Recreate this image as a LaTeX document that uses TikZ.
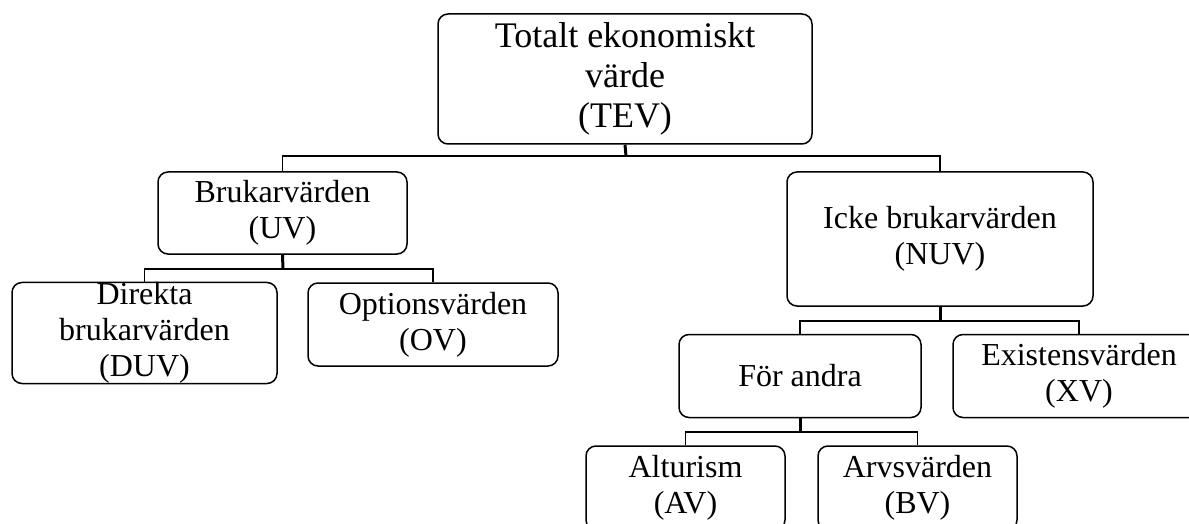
\documentclass[tikz,border=0pt]{standalone}
\usepackage{fontspec}
\setmainfont{Liberation Serif}
\begin{document}
\begin{tikzpicture}[
        x=1pt, y=-1pt,
        box/.style={rectangle, draw, rounded corners=10pt, line width=1.5pt, inner sep=0pt, align=center, font=\fontsize{32}{36}\selectfont},
        link/.style={line width=1.5pt},
        stem/.style={line width=3pt}
    ]
        \clip (0,0) rectangle (1189,524);

        % Top
        \node[box, minimum width=374pt, minimum height=130pt, font=\fontsize{36}{40}\selectfont] (tev) at (625,79) {Totalt ekonomiskt\\v\"arde\\(TEV)};

        % Level 1
        \node[box, minimum width=249pt, minimum height=82pt] (uv) at (282.5,213) {Brukarv\"arden\\(UV)};
        \node[box, minimum width=306pt, minimum height=134pt] (nuv) at (940,239) {Icke brukarv\"arden\\(NUV)};

        % Under UV
        \node[box, minimum width=265pt, minimum height=100pt] (duv) at (144.5,333) {Direkta\\brukarv\"arden\\(DUV)};
        \node[box, minimum width=250pt, minimum height=83pt] (ov) at (433,324.5) {Optionsv\"arden\\(OV)};

        % Under NUV
        \node[box, minimum width=242pt, minimum height=83pt] (foer) at (800,376) {F\"or andra};
        \node[box, minimum width=252pt, minimum height=83pt] (xv) at (1079,376) {Existensv\"arden\\(XV)};

        % Under For andra
        \node[box, minimum width=199pt, minimum height=84pt] (av) at (685.5,488) {Alturism\\(AV)};
        \node[box, minimum width=199pt, minimum height=84pt] (bv) at (917.5,488) {Arvsv\"arden\\(BV)};

        % Junctions
        \coordinate (j1) at (626,156);
        \coordinate (j2) at (283,269);
        \coordinate (j3) at (940,321);
        \coordinate (j4) at (800,432);

        \draw[stem] (tev.south) -- (j1);
        \draw[link] (uv.north) |- (j1) -| (nuv.north);
        \draw[stem] (uv.south) -- (j2);
        \draw[link] (duv.north) |- (j2) -| (ov.north);
        \draw[stem] (nuv.south) -- (j3);
        \draw[link] (foer.north) |- (j3) -| (xv.north);
        \draw[stem] (foer.south) -- (j4);
        \draw[link] (av.north) |- (j4) -| (bv.north);
    \end{tikzpicture}
\end{document}
